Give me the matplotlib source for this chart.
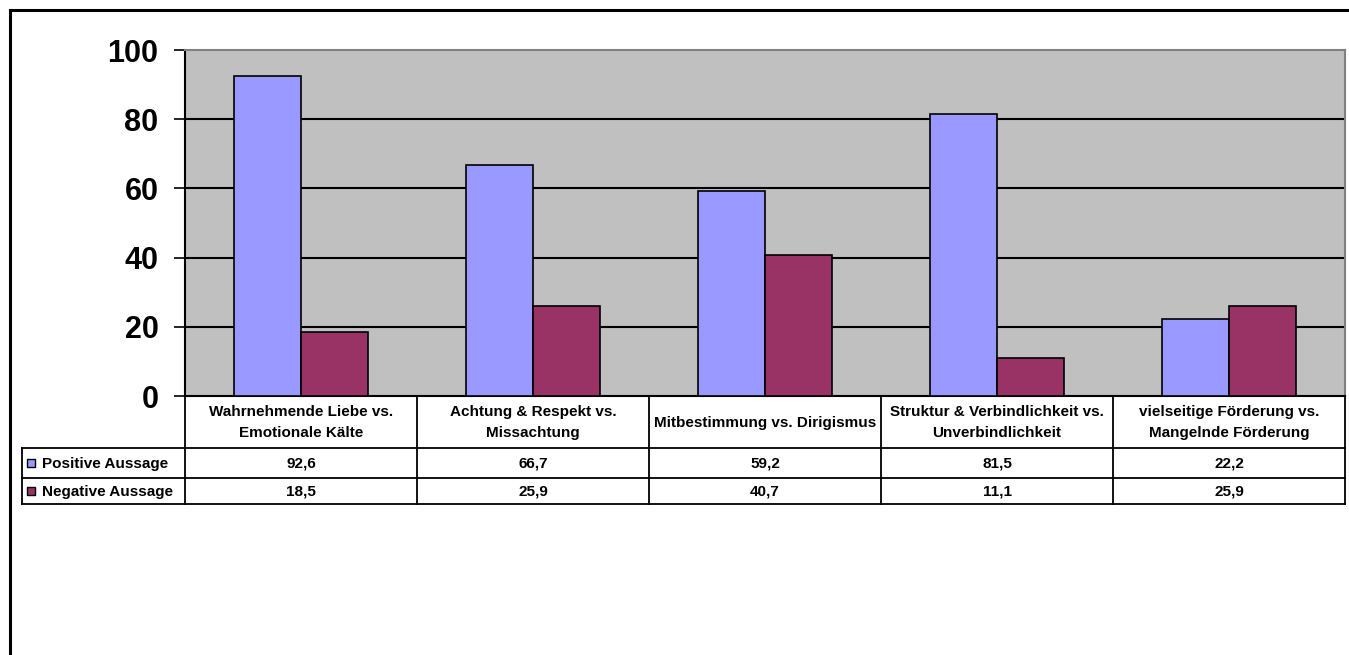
import matplotlib
matplotlib.use("Agg")
import matplotlib.pyplot as plt
import numpy as np
from matplotlib.patches import Rectangle

plt.rcParams["font.family"] = ["Liberation Sans", "DejaVu Sans"]

categories = [
    "Wahrnehmende Liebe vs.\nEmotionale Kälte",
    "Achtung & Respekt vs.\nMissachtung",
    "Mitbestimmung vs. Dirigismus",
    "Struktur & Verbindlichkeit vs.\nUnverbindlichkeit",
    "vielseitige Förderung vs.\nMangelnde Förderung",
]
series_names = ["Positive Aussage", "Negative Aussage"]
positive = [92.6, 66.7, 59.2, 81.5, 22.2]
negative = [18.5, 25.9, 40.7, 11.1, 25.9]
yticks = [0, 20, 40, 60, 80, 100]

col_pos = "#9999FF"
col_neg = "#993366"

W, H = 1349, 655
fig = plt.figure(figsize=(W / 100, H / 100), dpi=100)

# overlay in pixel coordinates for frame + data table
ov = fig.add_axes([0, 0, 1, 1])
ov.set_xlim(0, W); ov.set_ylim(H, 0); ov.axis("off")

# plot area: x 185..1345, y 50..396 px
L, R, T, B = 185, 1345, 50, 396
ax = fig.add_axes([L / W, 1 - B / H, (R - L) / W, (B - T) / H])
ax.set_facecolor("#C0C0C0")

n = len(categories)
x = np.arange(n)
bw = 0.289
ax.bar(x - bw / 2, positive, bw, color=col_pos, edgecolor="black", lw=1.2, zorder=3)
ax.bar(x + bw / 2, negative, bw, color=col_neg, edgecolor="black", lw=1.2, zorder=3)

ax.set_xlim(-0.5, n - 0.5)
ax.set_ylim(0, 100)
ax.set_yticks(yticks)
ax.set_yticklabels([str(v) for v in yticks], fontsize=22, fontweight="bold")
ax.tick_params(axis="y", direction="out", length=8, width=1.2, pad=11)
ax.set_xticks([])
for v in yticks[1:-1]:
    ax.axhline(v, color="black", lw=1.5, zorder=1)
for s in ("top", "right"):
    ax.spines[s].set_color("#808080")
    ax.spines[s].set_linewidth(1.5)
ax.spines["left"].set_linewidth(1.5)
ax.spines["bottom"].set_linewidth(1.5)

# outer frame (top and left edge visible)
ov.plot([10, W], [10, 10], color="black", lw=2.2)
ov.plot([10, 10], [10, H], color="black", lw=2.2)

# data table
colw = (R - L) / n
edges = [L + i * colw for i in range(n + 1)]
hdr_top, r1_top, r2_top, bot = B, 448, 478, 504
lw = 1.3
fs = 11
for xe in edges:
    ov.plot([xe, xe], [hdr_top, bot], color="black", lw=lw)
ov.plot([22, 22], [r1_top, bot], color="black", lw=lw)
for ye in (r1_top, r2_top, bot):
    ov.plot([22, R], [ye, ye], color="black", lw=lw)

for i, cat in enumerate(categories):
    cx = (edges[i] + edges[i + 1]) / 2
    ov.text(cx, (hdr_top + r1_top) / 2 + 0.5, cat, ha="center", va="center",
            fontsize=fs, fontweight="bold", linespacing=1.6)
    ov.text(cx, (r1_top + r2_top) / 2 + 1, f"{positive[i]:.1f}".replace(".", ","),
            ha="center", va="center", fontsize=fs, fontweight="bold")
    ov.text(cx, (r2_top + bot) / 2 + 1, f"{negative[i]:.1f}".replace(".", ","),
            ha="center", va="center", fontsize=fs, fontweight="bold")

for (ytop, ybot), name, col in zip([(r1_top, r2_top), (r2_top, bot)],
                                   series_names, [col_pos, col_neg]):
    ym = (ytop + ybot) / 2
    ov.add_patch(Rectangle((27, ym - 4), 8, 8, facecolor=col, edgecolor="black", lw=1))
    ov.text(42, ym + 1, name, ha="left", va="center", fontsize=fs, fontweight="bold")

fig.savefig("out.png", dpi=100)
